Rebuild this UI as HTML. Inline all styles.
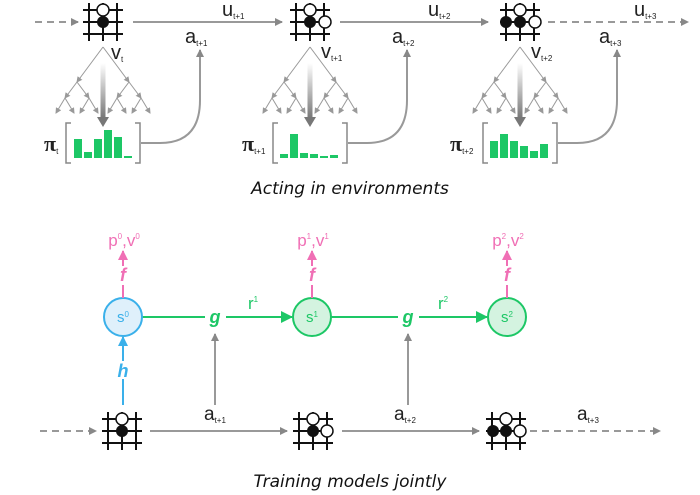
<!DOCTYPE html>
<html><head><meta charset="utf-8"><style>
html,body{margin:0;padding:0;background:#fff;}
svg{display:block;font-family:"Liberation Sans",sans-serif;}
.cap{font-family:"DejaVu Sans","Liberation Sans",sans-serif;font-style:italic;font-size:17px;fill:#111;}
</style></head><body>
<svg width="700" height="495" viewBox="0 0 700 495" xmlns="http://www.w3.org/2000/svg">
<defs>
<marker id="ag" markerWidth="8" markerHeight="8" refX="7" refY="4" orient="auto" markerUnits="userSpaceOnUse"><path d="M0,0 L8,4 L0,8z" fill="#888"/></marker>
<marker id="ags" markerWidth="6" markerHeight="6" refX="5" refY="3" orient="auto" markerUnits="userSpaceOnUse"><path d="M0,0 L6,3 L0,6z" fill="#999"/></marker>
<marker id="agr" markerWidth="12" markerHeight="12" refX="11" refY="6" orient="auto" markerUnits="userSpaceOnUse"><path d="M0,0 L12,6 L0,12z" fill="#1dc766"/></marker>
<marker id="ab" markerWidth="10" markerHeight="10" refX="9" refY="5" orient="auto" markerUnits="userSpaceOnUse"><path d="M0,0 L10,5 L0,10z" fill="#3ab0ea"/></marker>
<marker id="ap" markerWidth="10" markerHeight="10" refX="9" refY="5" orient="auto" markerUnits="userSpaceOnUse"><path d="M0,0 L10,5 L0,10z" fill="#f06fb5"/></marker>
<linearGradient id="gr" x1="0" y1="0" x2="0" y2="1"><stop offset="0" stop-color="#fff"/><stop offset="1" stop-color="#777"/></linearGradient>
<g id="tree" stroke="#999" stroke-width="1" fill="none">
<line x1="0" y1="0" x2="-26" y2="35" marker-end="url(#ags)"/><line x1="0" y1="0" x2="26" y2="35" marker-end="url(#ags)"/>
<line x1="-26" y1="35" x2="-38" y2="51" marker-end="url(#ags)"/><line x1="-26" y1="35" x2="-14" y2="51" marker-end="url(#ags)"/>
<line x1="26" y1="35" x2="14" y2="51" marker-end="url(#ags)"/><line x1="26" y1="35" x2="38" y2="51" marker-end="url(#ags)"/>
<line x1="-38" y1="51" x2="-47" y2="66" marker-end="url(#ags)"/><line x1="-38" y1="51" x2="-29" y2="66" marker-end="url(#ags)"/>
<line x1="-14" y1="51" x2="-23" y2="66" marker-end="url(#ags)"/><line x1="-14" y1="51" x2="-5" y2="66" marker-end="url(#ags)"/>
<line x1="14" y1="51" x2="5" y2="66" marker-end="url(#ags)"/><line x1="14" y1="51" x2="23" y2="66" marker-end="url(#ags)"/>
<line x1="38" y1="51" x2="29" y2="66" marker-end="url(#ags)"/><line x1="38" y1="51" x2="47" y2="66" marker-end="url(#ags)"/>
</g>
<g id="grid" stroke="#111" stroke-width="2">
<line x1="-20" y1="-12" x2="20" y2="-12"/><line x1="-20" y1="0" x2="20" y2="0"/><line x1="-20" y1="12" x2="20" y2="12"/>
<line x1="-14" y1="-19" x2="-14" y2="19"/><line x1="0" y1="-19" x2="0" y2="19"/><line x1="14" y1="-19" x2="14" y2="19"/>
</g>
<g id="bigarrow"><rect x="-2.5" y="0" width="5" height="55" fill="url(#gr)"/><path d="M-6,54 L6,54 L0,64z" fill="#777"/></g>
<g id="brk" stroke="#888" stroke-width="1.5" fill="none"><path d="M-32,-2 h-5 v40 h5"/><path d="M32,-2 h5 v40 h-5"/></g>
</defs>

<line x1="35" y1="22" x2="78" y2="22" stroke="#999" stroke-width="2" stroke-dasharray="7,5" marker-end="url(#ag)"/>
<line x1="133" y1="22" x2="282" y2="22" stroke="#999" stroke-width="2" marker-end="url(#ag)"/>
<line x1="340" y1="22" x2="488" y2="22" stroke="#999" stroke-width="2" marker-end="url(#ag)"/>
<line x1="548" y1="22" x2="688" y2="22" stroke="#999" stroke-width="2" stroke-dasharray="7,5" marker-end="url(#ag)"/>

<g transform="translate(103,22)"><use href="#grid"/><circle cx="0" cy="-12" r="6" fill="#fff" stroke="#111" stroke-width="1.5"/><circle cx="0" cy="0" r="6" fill="#111"/></g>
<g transform="translate(310,22)"><use href="#grid"/><circle cx="0" cy="-12" r="6" fill="#fff" stroke="#111" stroke-width="1.5"/><circle cx="0" cy="0" r="6" fill="#111"/><circle cx="15" cy="0" r="6" fill="#fff" stroke="#111" stroke-width="1.5"/></g>
<g transform="translate(520,22)"><use href="#grid"/><circle cx="0" cy="-12" r="6" fill="#fff" stroke="#111" stroke-width="1.5"/><circle cx="-14" cy="0" r="6" fill="#111"/><circle cx="0" cy="0" r="6" fill="#111"/><circle cx="15" cy="0" r="6" fill="#fff" stroke="#111" stroke-width="1.5"/></g>

<g font-size="20" fill="#222">
<text x="222" y="16">u<tspan font-size="8" dy="3">t+1</tspan></text>
<text x="428" y="16">u<tspan font-size="8" dy="3">t+2</tspan></text>
<text x="634" y="16">u<tspan font-size="8" dy="3">t+3</tspan></text>
<text x="185" y="43">a<tspan font-size="8" dy="3">t+1</tspan></text>
<text x="392" y="43">a<tspan font-size="8" dy="3">t+2</tspan></text>
<text x="599" y="43">a<tspan font-size="8" dy="3">t+3</tspan></text>
<text x="111" y="59">v<tspan font-size="8" dy="3">t</tspan></text>
<text x="321" y="58">v<tspan font-size="8" dy="3">t+1</tspan></text>
<text x="531" y="58">v<tspan font-size="8" dy="3">t+2</tspan></text>
<text x="44" y="151" font-family="Liberation Serif" font-weight="bold" font-size="22">π<tspan font-family="Liberation Sans" font-weight="normal" font-size="8" dy="3">t</tspan></text>
<text x="242" y="151" font-family="Liberation Serif" font-weight="bold" font-size="22">π<tspan font-family="Liberation Sans" font-weight="normal" font-size="8" dy="3">t+1</tspan></text>
<text x="450" y="151" font-family="Liberation Serif" font-weight="bold" font-size="22">π<tspan font-family="Liberation Sans" font-weight="normal" font-size="8" dy="3">t+2</tspan></text>
</g>

<use href="#tree" transform="translate(103,47)"/>
<use href="#tree" transform="translate(310,47)"/>
<use href="#tree" transform="translate(520,47)"/>
<use href="#bigarrow" transform="translate(103,63)"/>
<use href="#bigarrow" transform="translate(310,63)"/>
<use href="#bigarrow" transform="translate(520,63)"/>
<use href="#brk" transform="translate(103,125)"/>
<use href="#brk" transform="translate(310,125)"/>
<use href="#brk" transform="translate(520,125)"/>

<g fill="#1dc766">
<rect x="74" y="139" width="8" height="19"/><rect x="84" y="152" width="8" height="6"/><rect x="94" y="139" width="8" height="19"/><rect x="104" y="130" width="8" height="28"/><rect x="114" y="137" width="8" height="21"/><rect x="124" y="156" width="8" height="2"/>
<rect x="280" y="154" width="8" height="4"/><rect x="290" y="134" width="8" height="24"/><rect x="300" y="153" width="8" height="5"/><rect x="310" y="154" width="8" height="4"/><rect x="320" y="156" width="8" height="2"/><rect x="330" y="155" width="8" height="3"/>
<rect x="490" y="141" width="8" height="17"/><rect x="500" y="134" width="8" height="24"/><rect x="510" y="141" width="8" height="17"/><rect x="520" y="146" width="8" height="12"/><rect x="530" y="151" width="8" height="7"/><rect x="540" y="144" width="8" height="14"/>
</g>

<g stroke="#999" stroke-width="2" fill="none" marker-end="url(#ag)">
<path d="M141,143 H160 Q200,143 200,100 V50"/>
<path d="M348,143 H367 Q407,143 407,100 V50"/>
<path d="M558,143 H577 Q617,143 617,100 V50"/>
</g>

<text x="350" y="194" class="cap" text-anchor="middle">Acting in environments</text>

<line x1="40" y1="431" x2="96" y2="431" stroke="#999" stroke-width="2" stroke-dasharray="7,5" marker-end="url(#ag)"/>
<line x1="150" y1="431" x2="287" y2="431" stroke="#999" stroke-width="2" marker-end="url(#ag)"/>
<line x1="342" y1="431" x2="479" y2="431" stroke="#999" stroke-width="2" marker-end="url(#ag)"/>
<line x1="530" y1="431" x2="660" y2="431" stroke="#999" stroke-width="2" stroke-dasharray="7,5" marker-end="url(#ag)"/>

<g transform="translate(122,431)"><use href="#grid"/><circle cx="0" cy="-12" r="6" fill="#fff" stroke="#111" stroke-width="1.5"/><circle cx="0" cy="0" r="6" fill="#111"/></g>
<g transform="translate(313,431)"><use href="#grid"/><circle cx="0" cy="-12" r="6" fill="#fff" stroke="#111" stroke-width="1.5"/><circle cx="0" cy="0" r="6" fill="#111"/><circle cx="14" cy="0" r="6" fill="#fff" stroke="#111" stroke-width="1.5"/></g>
<g transform="translate(506,431)"><use href="#grid"/><circle cx="0" cy="-12" r="6" fill="#fff" stroke="#111" stroke-width="1.5"/><circle cx="-13" cy="0" r="6" fill="#111"/><circle cx="0" cy="0" r="6" fill="#111"/><circle cx="14" cy="0" r="6" fill="#fff" stroke="#111" stroke-width="1.5"/></g>

<g font-size="19" fill="#222">
<text x="204" y="420">a<tspan font-size="8" dy="3">t+1</tspan></text>
<text x="394" y="420">a<tspan font-size="8" dy="3">t+2</tspan></text>
<text x="577" y="420">a<tspan font-size="8" dy="3">t+3</tspan></text>
</g>

<line x1="215" y1="405" x2="215" y2="334" stroke="#999" stroke-width="2" marker-end="url(#ag)"/>
<line x1="408" y1="405" x2="408" y2="334" stroke="#999" stroke-width="2" marker-end="url(#ag)"/>

<line x1="123" y1="405" x2="123" y2="337" stroke="#3ab0ea" stroke-width="2" marker-end="url(#ab)"/>
<rect x="113" y="361" width="20" height="18" fill="#fff"/>
<text x="123" y="377" font-size="18" font-weight="bold" font-style="italic" fill="#3ab0ea" text-anchor="middle">h</text>

<line x1="142" y1="317" x2="205" y2="317" stroke="#1dc766" stroke-width="2"/>
<line x1="226" y1="317" x2="292" y2="317" stroke="#1dc766" stroke-width="2" marker-end="url(#agr)"/>
<line x1="331" y1="317" x2="398" y2="317" stroke="#1dc766" stroke-width="2"/>
<line x1="419" y1="317" x2="487" y2="317" stroke="#1dc766" stroke-width="2" marker-end="url(#agr)"/>
<g font-size="18" font-weight="bold" font-style="italic" fill="#1dc766" text-anchor="middle">
<text x="215" y="323">g</text><text x="408" y="323">g</text>
</g>
<g font-size="17" fill="#1dc766">
<text x="248" y="309">r<tspan font-size="8" dy="-7">1</tspan></text>
<text x="438" y="309">r<tspan font-size="8" dy="-7">2</tspan></text>
</g>

<circle cx="123" cy="317" r="19" fill="#dff0fb" stroke="#3ab0ea" stroke-width="2"/>
<circle cx="312" cy="317" r="19" fill="#d4f3e0" stroke="#1dc766" stroke-width="2"/>
<circle cx="507" cy="317" r="19" fill="#d4f3e0" stroke="#1dc766" stroke-width="2"/>
<text x="123" y="322" font-size="15" fill="#3ab0ea" text-anchor="middle">s<tspan font-size="8" dy="-5">0</tspan></text>
<text x="312" y="322" font-size="15" fill="#1dc766" text-anchor="middle">s<tspan font-size="8" dy="-5">1</tspan></text>
<text x="507" y="322" font-size="15" fill="#1dc766" text-anchor="middle">s<tspan font-size="8" dy="-5">2</tspan></text>

<g stroke="#f06fb5" stroke-width="2">
<line x1="123" y1="298" x2="123" y2="285"/><line x1="123" y1="266" x2="123" y2="251" marker-end="url(#ap)"/>
<line x1="312" y1="298" x2="312" y2="285"/><line x1="312" y1="266" x2="312" y2="251" marker-end="url(#ap)"/>
<line x1="507" y1="298" x2="507" y2="285"/><line x1="507" y1="266" x2="507" y2="251" marker-end="url(#ap)"/>
</g>
<g font-size="18" font-weight="bold" font-style="italic" fill="#f06fb5" text-anchor="middle">
<text x="123" y="281">f</text><text x="312" y="281">f</text><text x="507" y="281">f</text>
</g>
<g font-size="17" fill="#f06fb5" text-anchor="middle">
<text x="124" y="246">p<tspan font-size="8" dy="-7">0</tspan><tspan dy="7">,v</tspan><tspan font-size="8" dy="-7">0</tspan></text>
<text x="313" y="246">p<tspan font-size="8" dy="-7">1</tspan><tspan dy="7">,v</tspan><tspan font-size="8" dy="-7">1</tspan></text>
<text x="508" y="246">p<tspan font-size="8" dy="-7">2</tspan><tspan dy="7">,v</tspan><tspan font-size="8" dy="-7">2</tspan></text>
</g>

<text x="350" y="487" class="cap" text-anchor="middle">Training models jointly</text>
</svg>
</body></html>
